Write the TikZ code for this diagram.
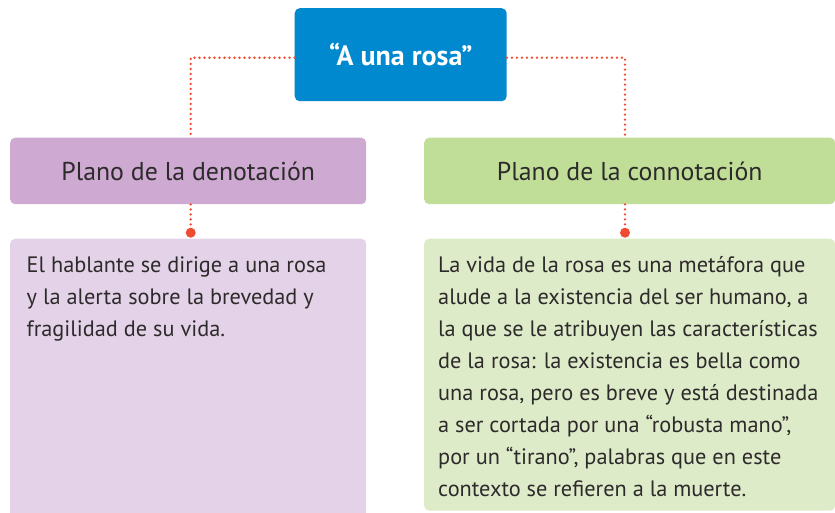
\documentclass[tikz,border=0pt]{standalone}
\usepackage{fontspec}
\setmainfont{PT Sans}
\usetikzlibrary{positioning}
\definecolor{titleblue}{HTML}{0089CF}
\definecolor{denohead}{HTML}{CEA9D1}
\definecolor{denobody}{HTML}{E4D3E8}
\definecolor{connohead}{HTML}{C0DE97}
\definecolor{connobody}{HTML}{DEEBC9}
\definecolor{linkred}{HTML}{EE4B33}
\definecolor{textgray}{HTML}{2D2A2B}
\begin{document}
\begin{tikzpicture}[x=1pt, y=-1pt,
    box/.style={rounded corners=5pt, inner sep=0pt, anchor=north west},
    head/.style={box, text=textgray, font=\fontsize{25.8}{30}\selectfont},
    bodytext/.style={inner sep=0pt, anchor=north west, align=left, text=textgray,
      font=\fontsize{22.3}{32}\selectfont},
    link/.style={draw=linkred, line width=2.6pt, line cap=round, dash pattern=on 0pt off 5pt},
    knob/.style={circle, fill=linkred, inner sep=0pt, minimum size=10pt}]
  \useasboundingbox (0, 0) rectangle (835, 512);
  % title
  \node[box, fill=titleblue, text=white, minimum width=212pt, minimum height=93pt,
    font=\bfseries\fontsize{28}{32}\selectfont] (title) at (294.5, 8) {“A una rosa”};
  % the two headings
  \node[head, fill=denohead, minimum width=356pt, minimum height=66.5pt] (phead) at (10, 137.5) {Plano de la denotación};
  \node[head, fill=connohead, minimum width=411pt, minimum height=66.5pt] (chead) at (424, 137.5) {Plano de la connotación};
  % the two bodies
  \node[box, fill=denobody, minimum width=356pt, minimum height=290pt] (pbody) at (10, 238.5) {};
  \node[box, fill=connobody, minimum width=411pt, minimum height=272pt] (cbody) at (424, 238.5) {};
  \node[bodytext] (ptext) at (26.5, 256.5) {El hablante se dirige a una rosa\\
    y la alerta sobre la brevedad y\\
    fragilidad de su vida.};
  \node[bodytext] (ctext) at (438, 256.5) {La vida de la rosa es una metáfora que\\
    alude a la existencia del ser humano, a\\
    la que se le atribuyen las características\\
    de la rosa: la existencia es bella como\\
    una rosa, pero es breve y está destinada\\
    a ser cortada por una “robusta mano”,\\
    por un “tirano”, palabras que en este\\
    contexto se refieren a la muerte.};
  % knobs and dotted links
  \node[knob] (pknob) at (190.7, 232.7) {};
  \node[knob] (cknob) at (625, 232.7) {};
  \draw[link] ([yshift=-3pt]title.west) -| (phead.north -| pknob);
  \draw[link] ([yshift=-3pt]title.east) -| (chead.north -| cknob);
  \draw[link] (phead.south -| pknob) -- (pknob);
  \draw[link] (chead.south -| cknob) -- (cknob);
\end{tikzpicture}
\end{document}
